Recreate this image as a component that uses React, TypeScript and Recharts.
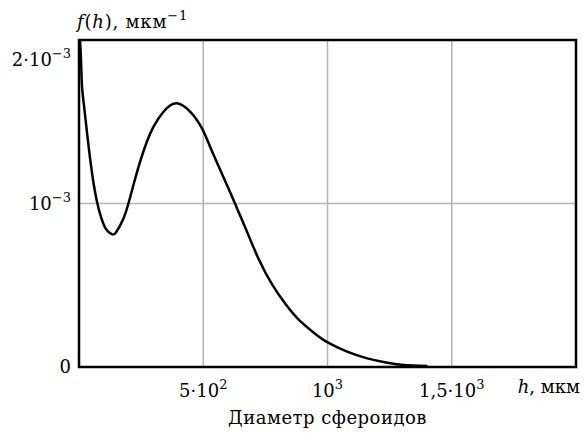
import { LineChart, Line, XAxis, YAxis, CartesianGrid, ReferenceArea, Label } from 'recharts'

// h, мкм  ->  f(h), 10^-3 мкм^-1
const diameters = [4, 8, 12, 20, 34, 54, 74, 90, 108, 132, 150, 179, 199, 219, 246, 273, 300, 340, 394, 448, 470, 495, 520, 548, 602, 629, 669, 723, 777, 831, 884, 945, 999, 1079, 1160, 1241, 1308, 1402]
const density = [2.0, 1.88, 1.72, 1.6, 1.41, 1.17, 1.0, 0.91, 0.845, 0.812, 0.826, 0.909, 1.0, 1.113, 1.256, 1.378, 1.47, 1.561, 1.613, 1.561, 1.52, 1.46, 1.375, 1.275, 1.09, 0.995, 0.853, 0.66, 0.505, 0.385, 0.29, 0.21, 0.152, 0.094, 0.053, 0.026, 0.012, 0.006]

const xTicks = [500, 1000, 1500]
const xTickLabels = [['5·10', '2'], ['10', '3'], ['1,5·10', '3']]
const yTicks = [0, 0.001, 0.002]
const yTickLabels = [['0', ''], ['10', '−3'], ['2·10', '−3']]

const data = diameters.map((h, i) => ({ h, f: density[i] / 1000 }))

const FONT = '"DejaVu Serif", serif'

function XTick(props: any) {
  const { x, y, index } = props
  const [base, exp] = xTickLabels[index]
  return (
    <text x={x} y={y + 22} textAnchor="middle" fontFamily={FONT} fontSize={18} fill="#000">
      {base}
      <tspan dy={-8} fontSize={13}>{exp}</tspan>
    </text>
  )
}

function YTick(props: any) {
  const { x, y, index } = props
  const [base, exp] = yTickLabels[index]
  const shift = index === yTicks.length - 1 ? 20 : 0
  return (
    <text x={x} y={y + shift + 6} textAnchor="end" fontFamily={FONT} fontSize={18} fill="#000">
      {base}
      {exp && <tspan dy={-8} fontSize={13}>{exp}</tspan>}
    </text>
  )
}

function XLabels(props: any) {
  const { x, y, width } = props.viewBox
  return (
    <g fontFamily={FONT} fontSize={18} fill="#000">
      <text x={x + width + 4} y={y + 26} textAnchor="end">
        <tspan fontStyle="italic">h</tspan>, мкм
      </text>
      <text x={x + width / 2} y={y + 57} textAnchor="middle" letterSpacing={0.5}>Диаметр сфероидов</text>
    </g>
  )
}

function YLabel(props: any) {
  const { x, y, width } = props.viewBox
  return (
    <text x={x + width - 2} y={y - 12} textAnchor="start" fontFamily={FONT} fontSize={18} fill="#000" letterSpacing={0.8}>
      <tspan fontStyle="italic">f</tspan>(<tspan fontStyle="italic">h</tspan>), мкм
      <tspan dy={-8} fontSize={13}>−1</tspan>
    </text>
  )
}

export default function App() {
  return (
    <div style={{ position: 'absolute', left: 0, top: 0, background: '#fff' }}>
      <LineChart width={584} height={437} data={data} margin={{ top: 40, right: 8, bottom: 0, left: 0 }}>
        <CartesianGrid stroke="#b4b4b4" strokeWidth={1.5} vertical horizontal />
        <XAxis
          dataKey="h"
          type="number"
          domain={[0, 2000]}
          ticks={xTicks}
          axisLine={false}
          tickLine={false}
          height={70}
          tick={<XTick />}
          interval={0}
        >
          <Label content={<XLabels />} />
        </XAxis>
        <YAxis
          type="number"
          domain={[0, 0.002]}
          ticks={yTicks}
          axisLine={false}
          tickLine={false}
          width={79}
          tick={<YTick />}
          interval={0}
        >
          <Label content={<YLabel />} />
        </YAxis>
        <ReferenceArea x1={0} x2={2000} y1={0} y2={0.002} fill="none" fillOpacity={0} stroke="#000" strokeWidth={2.5} />
        <Line type="natural" dataKey="f" stroke="#000" strokeWidth={2.5} dot={false} isAnimationActive={false} />
      </LineChart>
    </div>
  )
}
